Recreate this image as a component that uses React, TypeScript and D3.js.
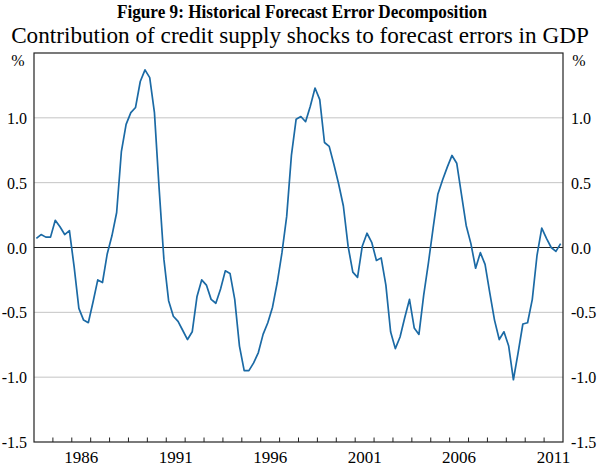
import React from "react";
import * as d3 from "d3";

const startYear = 1984;
const values: number[] = [
  // 1984
  0.07, 0.10, 0.08, 0.08,
  // 1985
  0.21, 0.16, 0.10, 0.13,
  // 1986
  -0.15, -0.47, -0.56, -0.58,
  // 1987
  -0.42, -0.25, -0.27, -0.05,
  // 1988
  0.09, 0.27, 0.74, 0.95,
  // 1989
  1.04, 1.08, 1.28, 1.37,
  // 1990
  1.31, 1.04, 0.45, -0.09,
  // 1991
  -0.41, -0.53, -0.57, -0.64,
  // 1992
  -0.71, -0.65, -0.38, -0.25,
  // 1993
  -0.29, -0.40, -0.43, -0.32,
  // 1994
  -0.18, -0.20, -0.40, -0.76,
  // 1995
  -0.95, -0.95, -0.89, -0.81,
  // 1996
  -0.67, -0.58, -0.46, -0.27,
  // 1997
  -0.04, 0.24, 0.71, 0.99,
  // 1998
  1.01, 0.97, 1.09, 1.23,
  // 1999
  1.14, 0.81, 0.78, 0.64,
  // 2000
  0.49, 0.32, 0.01, -0.19,
  // 2001
  -0.23, 0.01, 0.11, 0.04,
  // 2002
  -0.10, -0.08, -0.29, -0.65,
  // 2003
  -0.78, -0.69, -0.54, -0.40,
  // 2004
  -0.62, -0.67, -0.37, -0.12,
  // 2005
  0.15, 0.41, 0.52, 0.62,
  // 2006
  0.71, 0.65, 0.41, 0.17,
  // 2007
  0.03, -0.16, -0.04, -0.13,
  // 2008
  -0.35, -0.56, -0.71, -0.65,
  // 2009
  -0.76, -1.02, -0.81, -0.59,
  // 2010
  -0.58, -0.40, -0.06, 0.15,
  // 2011
  0.07, 0.00, -0.03, 0.03,
];

const yTicks = [-1.5, -1.0, -0.5, 0.0, 0.5, 1.0];
const gridValues = [-1.0, -0.5, 0.5, 1.0];
const yearLabels = [1986, 1991, 1996, 2001, 2006, 2011];
const titleText = "Figure 9: Historical Forecast Error Decomposition";
const subtitleText = "Contribution of credit supply shocks to forecast errors in GDP";

const FONT = "'Liberation Serif', 'Times New Roman', Times, serif";

export default function App() {
  const W = 600, H = 467;
  const left = 34, right = 563, top = 53, bottom = 442;
  const x = d3.scaleLinear().domain([1984, 2012]).range([left, right]);
  const y = d3.scaleLinear().domain([-1.5, 1.5]).range([bottom, top]);
  const pts: [number, number][] = values.map((v, i) => [startYear + (i + 0.5) / 4, v]);
  const line = d3.line<[number, number]>().x((d) => x(d[0])).y((d) => y(d[1]));
  const years = d3.range(1985, 2012);
  return (
    <svg width={W} height={H} style={{ position: "absolute", left: 0, top: 0 }}>
      <rect x={0} y={0} width={W} height={H} fill="#fff" />
      <text x={117} y={17.5} textAnchor="start" fontWeight="bold" fontSize={19} fontFamily={FONT}
        textLength={370} lengthAdjust="spacingAndGlyphs">{titleText}</text>
      <text x={300} y={43} textAnchor="middle" fontSize={23.2} fontFamily={FONT}>{subtitleText}</text>
      {gridValues.map((g) => (
        <line key={g} x1={left} x2={right} y1={y(g)} y2={y(g)} stroke="#c4c4c4" strokeWidth={1} />
      ))}
      <line x1={left} x2={right} y1={y(0)} y2={y(0)} stroke="#222" strokeWidth={1.2} />
      {years.map((yr) => (
        <line key={yr} x1={x(yr)} x2={x(yr)} y1={bottom} y2={bottom - 4.5} stroke="#222" strokeWidth={1} />
      ))}
      <path d={line(pts) || ""} fill="none" stroke="#1b6aa5" strokeWidth={1.7} strokeLinejoin="round" />
      <rect x={left} y={top} width={right - left} height={bottom - top} fill="none" stroke="#222" strokeWidth={1.2} />
      {yTicks.map((t) => (
        <g key={t}>
          <text x={27} y={y(t) + 6} textAnchor="end" fontSize={16} fontFamily={FONT}>{t.toFixed(1)}</text>
          <text x={571} y={y(t) + 6} textAnchor="start" fontSize={16} fontFamily={FONT}>{t.toFixed(1)}</text>
        </g>
      ))}
      <text x={18} y={66} textAnchor="middle" fontSize={16} fontFamily={FONT}>%</text>
      <text x={579} y={66} textAnchor="middle" fontSize={16} fontFamily={FONT}>%</text>
      {yearLabels.map((yr) => (
        <text key={yr} x={x(yr + 0.5)} y={463} textAnchor="middle" fontSize={17} fontFamily={FONT}>{yr}</text>
      ))}
    </svg>
  );
}
